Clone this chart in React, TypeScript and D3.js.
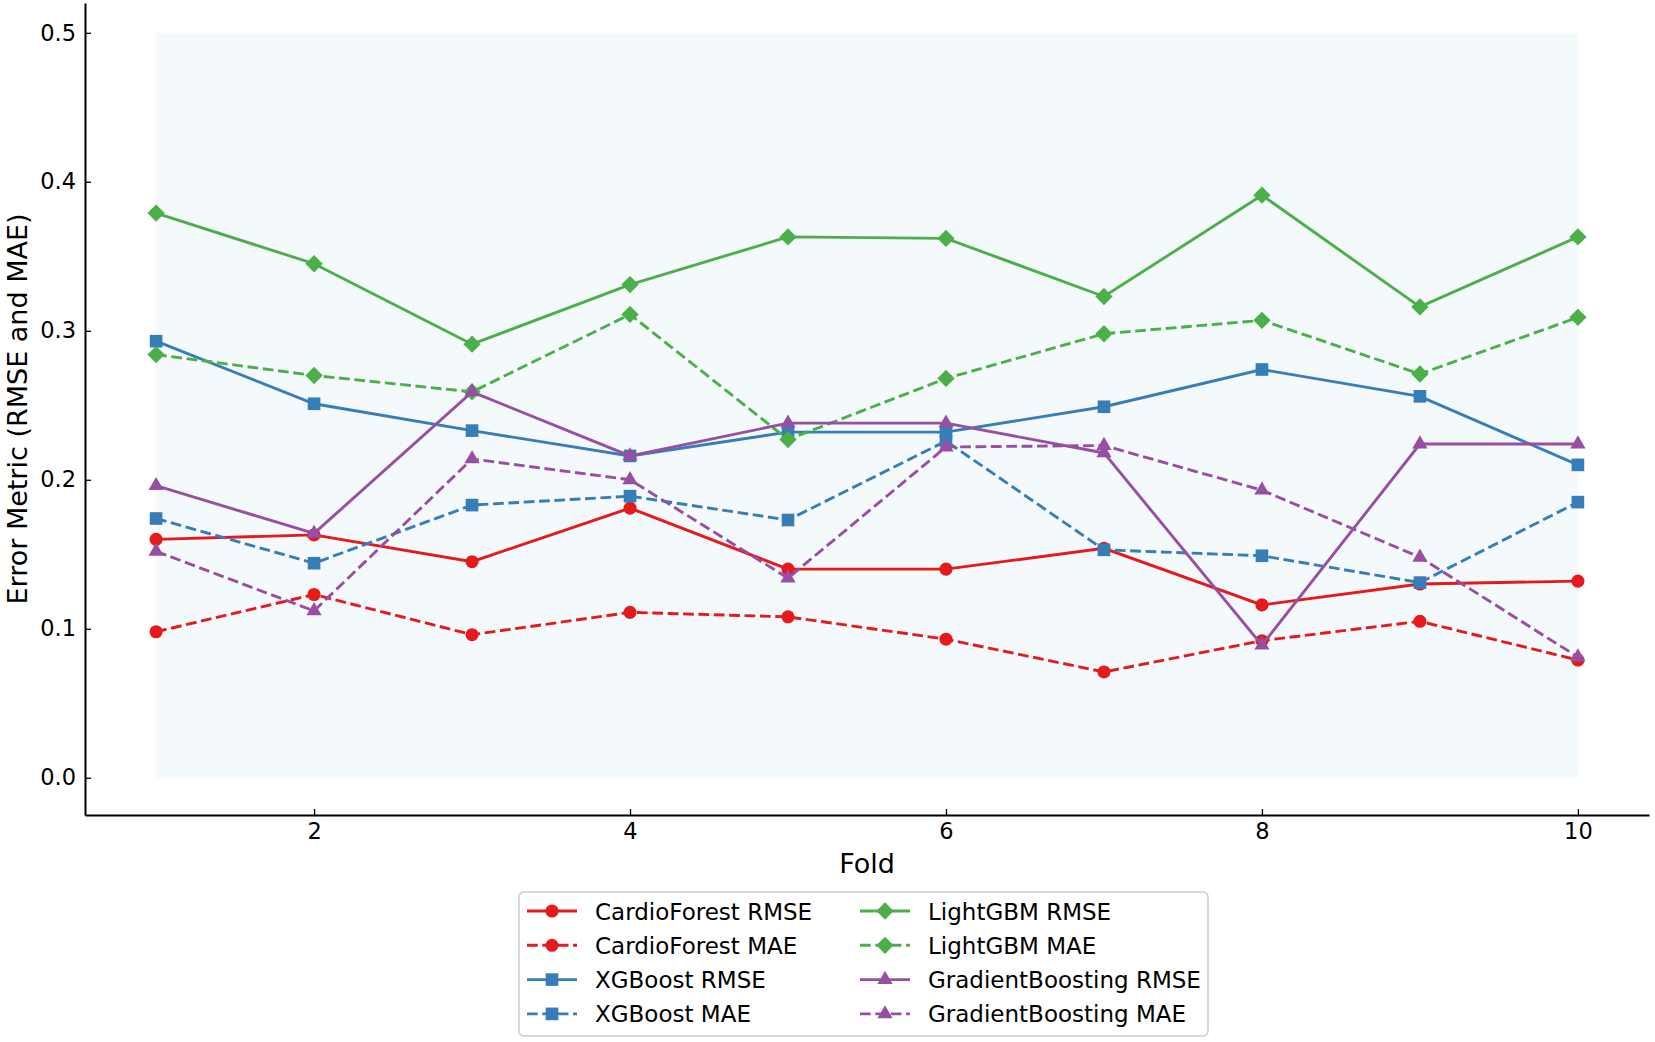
import * as React from 'react';
import * as d3 from 'd3';

const folds = [1, 2, 3, 4, 5, 6, 7, 8, 9, 10];
const cfRmse = [0.160, 0.163, 0.145, 0.181, 0.140, 0.140, 0.154, 0.116, 0.130, 0.132];
const cfMae = [0.098, 0.123, 0.096, 0.111, 0.108, 0.093, 0.071, 0.092, 0.105, 0.079];
const xgbRmse = [0.293, 0.251, 0.233, 0.216, 0.232, 0.232, 0.249, 0.274, 0.256, 0.210];
const xgbMae = [0.174, 0.144, 0.183, 0.189, 0.173, 0.226, 0.153, 0.149, 0.131, 0.185];
const lgbRmse = [0.379, 0.345, 0.291, 0.331, 0.363, 0.362, 0.323, 0.391, 0.316, 0.363];
const lgbMae = [0.284, 0.270, 0.259, 0.311, 0.227, 0.268, 0.298, 0.307, 0.271, 0.309];
const gbRmse = [0.196, 0.164, 0.259, 0.216, 0.238, 0.238, 0.218, 0.089, 0.224, 0.224];
const gbMae = [0.152, 0.112, 0.214, 0.200, 0.134, 0.222, 0.223, 0.193, 0.148, 0.081];

const xTicks = [2, 4, 6, 8, 10];
const yTicks = [0, 0.1, 0.2, 0.3, 0.4, 0.5];

type Series = { name: string; values: number[]; color: string; dashed: boolean; marker: string };

const series: Series[] = [
  { name: 'CardioForest RMSE', values: cfRmse, color: '#e41a1c', dashed: false, marker: 'circle' },
  { name: 'CardioForest MAE', values: cfMae, color: '#e41a1c', dashed: true, marker: 'circle' },
  { name: 'XGBoost RMSE', values: xgbRmse, color: '#377eb8', dashed: false, marker: 'square' },
  { name: 'XGBoost MAE', values: xgbMae, color: '#377eb8', dashed: true, marker: 'square' },
  { name: 'LightGBM RMSE', values: lgbRmse, color: '#4daf4a', dashed: false, marker: 'diamond' },
  { name: 'LightGBM MAE', values: lgbMae, color: '#4daf4a', dashed: true, marker: 'diamond' },
  { name: 'GradientBoosting RMSE', values: gbRmse, color: '#984ea3', dashed: false, marker: 'triangle' },
  { name: 'GradientBoosting MAE', values: gbMae, color: '#984ea3', dashed: true, marker: 'triangle' },
];

const W = 1655;
const H = 1042;
const FONT = '"DejaVu Sans", sans-serif';

function markerPath(kind: string, k = 1) {
  if (kind === 'circle') return d3.symbol(d3.symbolCircle, 135 * k)();
  if (kind === 'square') return d3.symbol(d3.symbolSquare, 160 * k)();
  if (kind === 'diamond') return d3.symbol(d3.symbolSquare, 150 * k)();
  return d3.symbol(d3.symbolTriangle, 100 * k)();
}

export default function App() {
  const ref = React.useRef<SVGSVGElement | null>(null);

  React.useEffect(() => {
    if (!ref.current) return;
    const svg = d3.select(ref.current);
    svg.selectAll('*').remove();

    const left = 85, right = 1649, top = 3, bottom = 815;
    const x = d3.scaleLinear().domain([0.55, 10.45]).range([left, right]);
    const y = d3.scaleLinear().domain([-0.025, 0.52]).range([bottom, top]);

    // shaded band behind the lines
    svg.append('rect')
      .attr('x', x(1)).attr('y', y(0.5))
      .attr('width', x(10) - x(1)).attr('height', y(0) - y(0.5))
      .attr('fill', '#f4fafb');

    const line = d3.line<number>().x((_, i) => x(folds[i])).y(d => y(d));
    const lw = 2.9;

    series.forEach(s => {
      svg.append('path')
        .attr('d', line(s.values) || '')
        .attr('fill', 'none')
        .attr('stroke', s.color)
        .attr('stroke-width', lw)
        .attr('stroke-dasharray', s.dashed ? `${3.7 * lw},${1.6 * lw}` : null);
      svg.append('g').selectAll('path')
        .data(s.values)
        .join('path')
        .attr('d', markerPath(s.marker))
        .attr('transform', (d, i) => `translate(${x(folds[i])},${y(d)})` + (s.marker === 'diamond' ? ' rotate(45)' : ''))
        .attr('fill', s.color);
    });

    // axes, ticks pointing inward
    const ax = d3.axisBottom(x).tickValues(xTicks).tickFormat(d3.format('d')).tickSizeInner(-6).tickSizeOuter(0).tickPadding(8);
    const ay = d3.axisLeft(y).tickValues(yTicks).tickFormat(d3.format('.1f')).tickSizeInner(-6).tickSizeOuter(0).tickPadding(9);
    const gx = svg.append('g').attr('transform', `translate(0,${bottom})`).call(ax as any);
    const gy = svg.append('g').attr('transform', `translate(${left},0)`).call(ay as any);
    [gx, gy].forEach(g => {
      g.select('.domain').attr('stroke', '#000').attr('stroke-width', 2);
      g.selectAll('.tick line').attr('stroke', '#000').attr('stroke-width', 1.3);
      g.selectAll('.tick text').attr('fill', '#000').style('font-family', FONT).style('font-size', '22.5px');
    });

    svg.append('text')
      .attr('x', (left + right) / 2).attr('y', 873)
      .attr('text-anchor', 'middle')
      .style('font-family', FONT).style('font-size', '27px')
      .text('Fold');
    svg.append('text')
      .attr('transform', `translate(27,${(top + bottom) / 2}) rotate(-90)`)
      .attr('text-anchor', 'middle')
      .style('font-family', FONT).style('font-size', '27px')
      .text('Error Metric (RMSE and MAE)');

    // legend
    const lg = svg.append('g');
    lg.append('rect')
      .attr('x', 519).attr('y', 892).attr('width', 689).attr('height', 144)
      .attr('rx', 5).attr('fill', '#fff').attr('stroke', '#cccccc').attr('stroke-width', 1.5);
    const colX = [527, 860];
    series.forEach((s, i) => {
      const cx = colX[Math.floor(i / 4)];
      const cy = 911 + (i % 4) * 34.3;
      lg.append('line')
        .attr('x1', cx).attr('x2', cx + 50).attr('y1', cy).attr('y2', cy)
        .attr('stroke', s.color).attr('stroke-width', lw)
        .attr('stroke-dasharray', s.dashed ? `${3.7 * lw},${1.6 * lw}` : null);
      lg.append('path')
        .attr('d', markerPath(s.marker))
        .attr('transform', `translate(${cx + 25},${cy})` + (s.marker === 'diamond' ? ' rotate(45)' : ''))
        .attr('fill', s.color);
      lg.append('text')
        .attr('x', cx + 68).attr('y', cy + 8.5)
        .style('font-family', FONT).style('font-size', '23px')
        .text(s.name);
    });
  }, []);

  return (
    <svg ref={ref} width={W} height={H} viewBox={`0 0 ${W} ${H}`}
      style={{ position: 'absolute', left: 0, top: 0, background: '#fff' }} />
  );
}
